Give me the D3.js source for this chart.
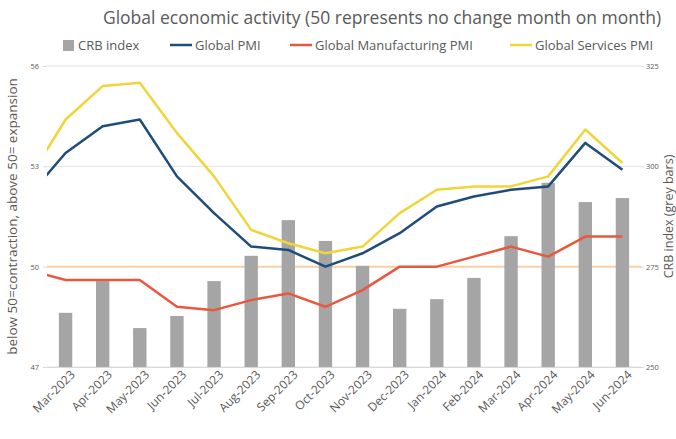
<!DOCTYPE html>
<html>
<head>
<meta charset="utf-8">
<script src="https://cdnjs.cloudflare.com/ajax/libs/d3/7.8.5/d3.min.js"></script>
<style>
  body { margin: 0; background: #fff; }
  svg text { font-family: "Open Sans", "Noto Sans", sans-serif; fill: #595959; }
</style>
</head>
<body>
<div id="chart"></div>
<script>
// categories shown on the x axis (bars)
var months = ['Mar-2023', 'Apr-2023', 'May-2023', 'Jun-2023', 'Jul-2023', 'Aug-2023',
              'Sep-2023', 'Oct-2023', 'Nov-2023', 'Dec-2023', 'Jan-2024', 'Feb-2024',
              'Mar-2024', 'Apr-2024', 'May-2024', 'Jun-2024'];
// PMI lines start one month earlier, the first point falls outside the plot
var lineMonths = ['Feb-2023'].concat(months);

var crbIndex = [263.5, 271.4, 259.7, 262.7, 271.4, 277.7, 286.6, 281.4,
                275.2, 264.5, 266.9, 272.2, 282.6, 295.9, 291.1, 292.1];
var globalPmi = [52.1, 53.4, 54.2, 54.4, 52.7, 51.6, 50.6, 50.5, 50.0,
                 50.4, 51.0, 51.8, 52.1, 52.3, 52.4, 53.7, 52.9];
var manufacturingPmi = [49.9, 49.6, 49.6, 49.6, 48.8, 48.7, 49.0, 49.2, 48.8,
                        49.3, 50.0, 50.0, 50.3, 50.6, 50.3, 50.9, 50.9];
var servicesPmi = [52.6, 54.4, 55.4, 55.5, 54.0, 52.7, 51.1, 50.7, 50.4,
                   50.6, 51.6, 52.3, 52.4, 52.4, 52.7, 54.1, 53.1];

var leftTicks = [47, 50, 53, 56];
var rightTicks = [250, 275, 300, 325];

var width = 676, height = 439,
    margin = { top: 66, right: 35, bottom: 72, left: 47 },
    plotW = width - margin.left - margin.right,
    plotH = height - margin.top - margin.bottom;

var svg = d3.select('#chart')
            .append('svg')
              .attr('width', width)
              .attr('height', height);

var g = svg.append('g')
           .attr('transform', 'translate(' + margin.left + ',' + margin.top + ')');

var x = d3.scaleBand().domain(months).range([0, plotW]).paddingInner(0.64).paddingOuter(0.32);
var xLine = d3.scaleLinear()
              .domain([1, lineMonths.length - 1])
              .range([x(months[0]) + x.bandwidth() / 2, x(months[months.length - 1]) + x.bandwidth() / 2]);
var yL = d3.scaleLinear().domain([47, 56]).range([plotH, 0]);
var yR = d3.scaleLinear().domain([250, 325]).range([plotH, 0]);

svg.append('defs').append('clipPath').attr('id', 'plotclip')
   .append('rect').attr('width', plotW).attr('height', plotH + 2).attr('y', -1);

// gridlines
g.selectAll('.grid').data(leftTicks).enter()
 .append('line')
   .attr('x1', 0).attr('x2', plotW)
   .attr('y1', function(d) { return yL(d); })
   .attr('y2', function(d) { return yL(d); })
   .attr('stroke', '#e3e3e3').attr('stroke-width', 1);

// 50 reference line
g.append('line')
 .attr('x1', 0).attr('x2', plotW)
 .attr('y1', yL(50)).attr('y2', yL(50))
 .attr('stroke', '#f8cfa8').attr('stroke-width', 2);

// bars
g.selectAll('.bar').data(crbIndex).enter()
 .append('rect')
   .attr('x', function(d, i) { return x(months[i]); })
   .attr('width', x.bandwidth())
   .attr('y', function(d) { return yR(d); })
   .attr('height', function(d) { return plotH - yR(d); })
   .attr('fill', '#a5a5a5');

// lines
var series = [
  { values: servicesPmi, color: '#f0d53a' },
  { values: manufacturingPmi, color: '#e8583f' },
  { values: globalPmi, color: '#1f4d7a' }
];
var line = d3.line()
             .x(function(d, i) { return xLine(i); })
             .y(function(d) { return yL(d); });
g.append('g').attr('clip-path', 'url(#plotclip)')
 .selectAll('path').data(series).enter()
 .append('path')
   .attr('d', function(s) { return line(s.values); })
   .attr('fill', 'none')
   .attr('stroke', function(s) { return s.color; })
   .attr('stroke-width', 2.5)
   .attr('stroke-linejoin', 'round');

// axes
var leftAxis = g.append('g')
  .call(d3.axisLeft(yL).tickValues(leftTicks).tickSize(4).tickPadding(4));
var rightAxis = g.append('g').attr('transform', 'translate(' + plotW + ',0)')
  .call(d3.axisRight(yR).tickValues(rightTicks).tickSize(3).tickPadding(2));
[leftAxis, rightAxis].forEach(function(a) {
  a.select('.domain').remove();
  a.selectAll('line').attr('stroke', '#d9d9d9');
  a.selectAll('text').style('font-size', '7.5px').attr('fill', '#8a8a8a');
});

var bottomAxis = g.append('g').attr('transform', 'translate(0,' + plotH + ')')
  .call(d3.axisBottom(x).tickSize(0).tickPadding(6).tickSizeOuter(0));
bottomAxis.select('.domain').attr('stroke', '#d9d9d9');
bottomAxis.selectAll('text')
  .style('font-size', '12px')
  .attr('text-anchor', 'end')
  .attr('dx', '0.1em')
  .attr('dy', '0.6em')
  .attr('transform', 'rotate(-45)');

// axis titles
svg.append('text')
   .attr('transform', 'translate(17,' + (margin.top + plotH / 2) + ') rotate(-90)')
   .attr('text-anchor', 'middle')
   .style('font-size', '13.5px')
   .text('below 50=contraction, above 50= expansion');
svg.append('text')
   .attr('transform', 'translate(673,' + (margin.top + plotH / 2) + ') rotate(-90)')
   .attr('text-anchor', 'middle')
   .style('font-size', '12.5px')
   .text('CRB index (grey bars)');

// title
svg.append('text')
   .attr('x', 382).attr('y', 24)
   .attr('text-anchor', 'middle')
   .style('font-size', '17.5px')
   .text('Global economic activity (50 represents no change month on month)');

// legend
var legendItems = [
  { name: 'CRB index', color: '#a5a5a5', type: 'rect', x: 63 },
  { name: 'Global PMI', color: '#1f4d7a', type: 'line', x: 170 },
  { name: 'Global Manufacturing PMI', color: '#e8583f', type: 'line', x: 290 },
  { name: 'Global Services PMI', color: '#f0d53a', type: 'line', x: 510 }
];
var legend = svg.selectAll('.legend-key').data(legendItems).enter()
  .append('g')
  .attr('class', 'legend-key')
  .attr('transform', function(d) { return 'translate(' + d.x + ',45)'; });
legend.each(function(d) {
  var el = d3.select(this);
  if (d.type === 'rect') {
    el.append('rect').attr('x', 0).attr('y', -5).attr('width', 11).attr('height', 11).attr('fill', d.color);
    el.append('text').attr('x', 15).attr('dy', '0.35em').style('font-size', '13px').text(d.name);
  } else {
    el.append('line').attr('x1', 0).attr('x2', 22).attr('stroke', d.color).attr('stroke-width', 2.5);
    el.append('text').attr('x', 25).attr('dy', '0.35em').style('font-size', '13px').text(d.name);
  }
});
</script>
</body>
</html>
